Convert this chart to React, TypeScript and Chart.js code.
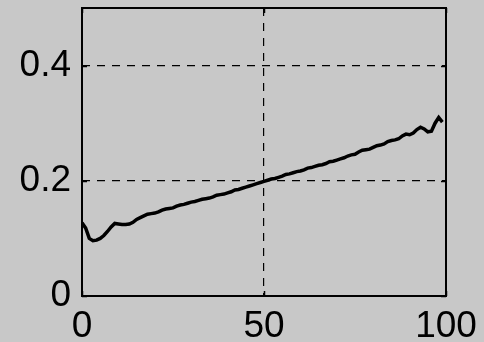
import React, { useEffect, useRef } from "react";
import { Chart, registerables } from "chart.js";

Chart.register(...registerables);

const xValues: number[] = [
  0, 1, 2, 3, 4, 5, 6, 7, 8, 9,
  10, 11, 12, 13, 14, 15, 16, 17, 18, 19,
  20, 21, 22, 23, 24, 25, 26, 27, 28, 29,
  30, 31, 32, 33, 34, 35, 36, 37, 38, 39,
  40, 41, 42, 43, 44, 45, 46, 47, 48, 49,
  50, 51, 52, 53, 54, 55, 56, 57, 58, 59,
  60, 61, 62, 63, 64, 65, 66, 67, 68, 69,
  70, 71, 72, 73, 74, 75, 76, 77, 78, 79,
  80, 81, 82, 83, 84, 85, 86, 87, 88, 89,
  90, 91, 92, 93, 94, 95, 96, 97, 98, 99,
];

const yValues: number[] = [
  0.127, 0.118, 0.1, 0.096, 0.097, 0.1, 0.105, 0.112, 0.12, 0.126,
  0.125, 0.124, 0.124, 0.125, 0.128, 0.133, 0.136, 0.139, 0.142, 0.143,
  0.144, 0.146, 0.149, 0.151, 0.152, 0.153, 0.156, 0.158, 0.159, 0.161,
  0.163, 0.164, 0.166, 0.168, 0.169, 0.17, 0.172, 0.175, 0.176, 0.177,
  0.179, 0.181, 0.184, 0.185, 0.187, 0.189, 0.191, 0.193, 0.195, 0.197,
  0.199, 0.201, 0.203, 0.204, 0.206, 0.208, 0.211, 0.212, 0.214, 0.216,
  0.217, 0.219, 0.222, 0.223, 0.225, 0.227, 0.228, 0.23, 0.233, 0.234,
  0.236, 0.238, 0.24, 0.243, 0.245, 0.246, 0.25, 0.253, 0.254, 0.255,
  0.258, 0.261, 0.262, 0.264, 0.268, 0.27, 0.271, 0.273, 0.278, 0.281,
  0.28, 0.283, 0.289, 0.293, 0.29, 0.285, 0.286, 0.3, 0.31, 0.302,
];

const xTicks: number[] = [0, 50, 100];
const yTicks: number[] = [0, 0.2, 0.4];

const FONT = { family: "'Liberation Sans', Arial, sans-serif", size: 37 };

const framePlugin = {
  id: "frame",
  afterDraw(chart: any) {
    const { ctx, chartArea } = chart;
    const { left, top, right, bottom } = chartArea;
    const xs = chart.scales.x;
    const ys = chart.scales.y;
    ctx.save();
    ctx.strokeStyle = "#000";
    ctx.lineWidth = 1.5;
    ctx.setLineDash([]);
    const tl = 5;
    ctx.beginPath();
    for (const v of xTicks) {
      const px = Math.round(xs.getPixelForValue(v)) + 0.5;
      ctx.moveTo(px, top);
      ctx.lineTo(px, top + tl);
      ctx.moveTo(px, bottom);
      ctx.lineTo(px, bottom - tl);
    }
    for (const v of yTicks) {
      const py = Math.round(ys.getPixelForValue(v)) + 0.5;
      ctx.moveTo(left, py);
      ctx.lineTo(left + tl, py);
      ctx.moveTo(right, py);
      ctx.lineTo(right - tl, py);
    }
    ctx.stroke();
    ctx.lineWidth = 2;
    ctx.strokeRect(left, top, right - left, bottom - top);
    ctx.restore();
  },
};

const zeroPad = (s: any) => {
  s.paddingTop = 0;
  s.paddingBottom = 0;
  s.paddingLeft = 0;
  s.paddingRight = 0;
};

export default function App() {
  const ref = useRef<HTMLCanvasElement | null>(null);

  useEffect(() => {
    document.body.style.margin = "0";
    const canvas = ref.current;
    if (!canvas) return;
    const chart = new Chart(canvas, {
      type: "line",
      data: {
        datasets: [
          {
            data: xValues.map((x, i) => ({ x, y: yValues[i] })),
            borderColor: "#000",
            borderWidth: 3.5,
            pointRadius: 0,
            fill: false,
            tension: 0,
          },
        ],
      },
      options: {
        responsive: false,
        animation: false,
        layout: { padding: { top: 8, right: 38, left: 0, bottom: 0 } },
        plugins: { legend: { display: false }, tooltip: { enabled: false } },
        scales: {
          x: {
            type: "linear",
            min: 0,
            max: 100,
            afterBuildTicks: (s: any) => {
              s.ticks = xTicks.map((v) => ({ value: v }));
            },
            afterFit: (s: any) => {
              s.height = 46;
              zeroPad(s);
            },
            grid: {
              drawTicks: false,
              lineWidth: 1.2,
              color: (c: any) =>
                c.tick && c.tick.value > 0 && c.tick.value < 100 ? "#000" : "rgba(0,0,0,0)",
            },
            border: { display: false, dash: [8, 7] },
            ticks: {
              color: "#000",
              font: FONT,
              padding: 9,
              maxRotation: 0,
              autoSkip: false,
              callback: (v: any) => String(v),
            },
          },
          y: {
            type: "linear",
            min: 0,
            max: 0.5,
            afterBuildTicks: (s: any) => {
              s.ticks = yTicks.map((v) => ({ value: v }));
            },
            afterFit: (s: any) => {
              s.width = 82;
              zeroPad(s);
            },
            grid: {
              drawTicks: false,
              lineWidth: 1.2,
              color: (c: any) =>
                c.tick && c.tick.value > 0 && c.tick.value < 0.5 ? "#000" : "rgba(0,0,0,0)",
            },
            border: { display: false, dash: [8, 7] },
            ticks: {
              color: "#000",
              font: FONT,
              padding: 11,
              autoSkip: false,
              callback: (v: any) => String(v),
            },
          },
        },
      },
      plugins: [framePlugin],
    });
    return () => chart.destroy();
  }, []);

  return (
    <div
      style={{
        position: "absolute",
        left: 0,
        top: 0,
        width: 484,
        height: 342,
        background: "#c8c8c8",
      }}
    >
      <canvas ref={ref} width={484} height={342} style={{ display: "block" }} />
    </div>
  );
}
